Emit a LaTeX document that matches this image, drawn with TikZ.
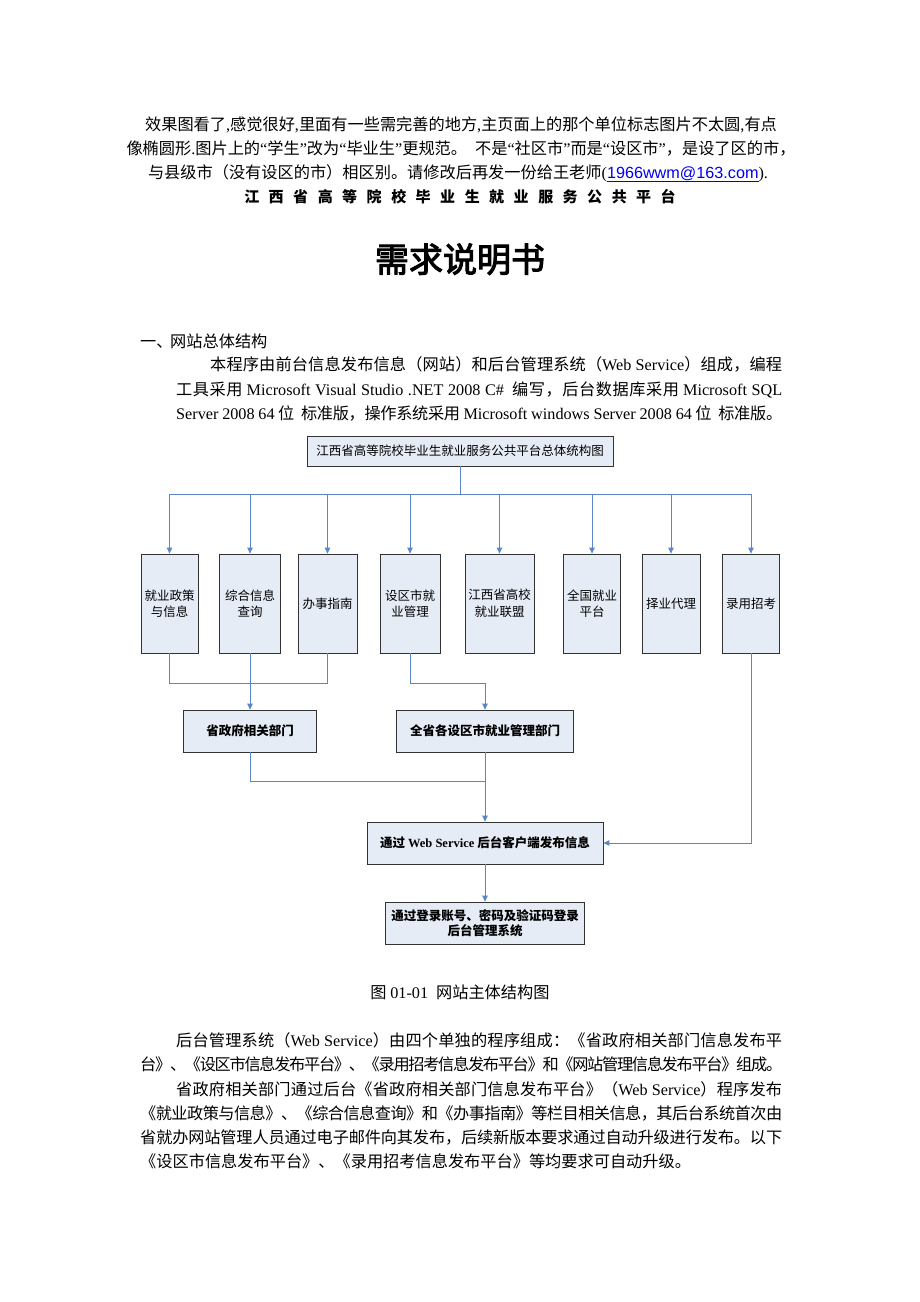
\documentclass[tikz,border=0pt]{standalone}
\usepackage{fontspec}
\setmainfont{Noto Sans CJK SC}
\newfontfamily\latfont{Liberation Serif}
\newfontfamily\lsansfont{Liberation Sans}
\newfontfamily\titlefont[FakeBold=3]{Noto Sans CJK SC}
\newcommand\lat[1]{{\latfont #1}}
\newcommand\bodyfont{\fontsize{16.2}{20}\selectfont}
\newcommand\boxfont{\fontsize{12.5}{16.5}\selectfont}
\newcommand\jxgap{\hskip 9.5pt}
% CJK characters get class 1; glue between them is used to justify single lines
\newcount\jxc
\jxc="3000 \loop \XeTeXcharclass\jxc=1 \advance\jxc 1 \ifnum\jxc<"3040 \repeat
\jxc="4E00 \loop \XeTeXcharclass\jxc=1 \advance\jxc 1 \ifnum\jxc<"A000 \repeat
\jxc="FF00 \loop \XeTeXcharclass\jxc=1 \advance\jxc 1 \ifnum\jxc<"FFF0 \repeat
\XeTeXinterchartoks 1 1 = {\hskip 0pt plus 2pt minus 1.6pt\relax}
\newcommand\jl[2]{\hbox to #1{\XeTeXinterchartokenstate=1 #2\XeTeXinterchartokenstate=0 }}
\usetikzlibrary{arrows.meta}
\definecolor{boxfill}{HTML}{E6ECF6}
\definecolor{boxline}{HTML}{333333}
\definecolor{connblue}{HTML}{5B87C8}
\definecolor{linkblue}{HTML}{0000EE}
\tikzset{
  box/.style={draw=boxline, fill=boxfill, line width=0.8pt, inner sep=1pt, align=center, font=\boxfont},
  bbox/.style={box, font=\boxfont\bfseries},
  conn/.style={draw=connblue, line width=0.9pt},
  arr/.style={conn, -{Triangle[length=6pt,width=5.5pt]}},
  cline/.style={anchor=base, inner sep=0pt, font=\bodyfont},
  lline/.style={anchor=base west, inner sep=0pt, font=\bodyfont},
}
\begin{document}
\begin{tikzpicture}[x=1pt,y=-1pt]
\fill[white] (0,0) rectangle (920,1302);
\path[use as bounding box] (0,0) rectangle (920,1302);

% ---- header note ----
\node[cline] (n1) at (461,130) {效果图看了\lat{,}感觉很好\lat{,}里面有一些需完善的地方\lat{,}主页面上的那个单位标志图片不太圆\lat{,}有点};
\node[cline] (n2) at (461,154) {像椭圆形\lat{.}图片上的\lat{“}学生\lat{”}改为\lat{“}毕业生\lat{”}更规范。\hspace{8pt}不是\lat{“}社区市\lat{”}而是\lat{“}设区市\lat{”}，是设了区的市，};
\node[cline] (n3) at (458,178) {与县级市（没有设区的市）相区别。请修改后再发一份给王老师\lat{(}\textcolor{linkblue}{\underline{\hbox{\lsansfont 1966wwm@163.com}}}\lat{).}};
\node[anchor=base, inner sep=0pt, font=\fontsize{15}{18}\selectfont\bfseries] (n4) at (460,202) {江\jxgap 西\jxgap 省\jxgap 高\jxgap 等\jxgap 院\jxgap 校\jxgap 毕\jxgap 业\jxgap 生\jxgap 就\jxgap 业\jxgap 服\jxgap 务\jxgap 公\jxgap 共\jxgap 平\jxgap 台};

% ---- title ----
\node[anchor=base, inner sep=0pt, font=\fontsize{34}{40}\selectfont\titlefont] (title) at (460,272) {需求说明书};

% ---- section 1 ----
\node[lline] (s1a) at (140,347) {一、};
\node[lline] (s1b) at (170,347) {网站总体结构};
\node[lline] (p1a) at (210,370) {\jl{572pt}{本程序由前台信息发布信息（网站）和后台管理系统（\lat{Web Service}）组成，编程}};
\node[lline] (p1b) at (176,395) {\jl{606pt}{工具采用 \lat{Microsoft Visual Studio .NET 2008 C\#}\ \ 编写，后台数据库采用 \lat{Microsoft SQL}}};
\node[lline] (p1c) at (176,419) {\jl{606pt}{\lat{Server 2008 64} 位\ \ 标准版，操作系统采用 \lat{Microsoft windows Server 2008 64} 位\ \ 标准版。}};

% ---- diagram ----
\node[box, minimum width=306pt, minimum height=30pt] (top) at (460,451) {江西省高等院校毕业生就业服务公共平台总体统构图};

\node[box, minimum width=57pt, minimum height=99pt] (b1) at (169.5,603.5) {就业政策\\与信息};
\node[box, minimum width=61pt, minimum height=99pt] (b2) at (250,603.5) {综合信息\\查询};
\node[box, minimum width=59pt, minimum height=99pt] (b3) at (327.5,603.5) {办事指南};
\node[box, minimum width=60pt, minimum height=99pt] (b4) at (410,603.5) {设区市就\\业管理};
\node[box, minimum width=69pt, minimum height=99pt] (b5) at (499.5,603.5) {江西省高校\\就业联盟};
\node[box, minimum width=57pt, minimum height=99pt] (b6) at (592,603.5) {全国就业\\平台};
\node[box, minimum width=58pt, minimum height=99pt] (b7) at (671,603.5) {择业代理};
\node[box, minimum width=57pt, minimum height=99pt] (b8) at (751,603.5) {录用招考};

\node[bbox, minimum width=133pt, minimum height=42pt] (gov) at (250,731) {省政府相关部门};
\node[bbox, minimum width=177pt, minimum height=42pt] (city) at (485,731) {全省各设区市就业管理部门};
\node[bbox, minimum width=236pt, minimum height=42pt] (ws) at (485,843) {通过 \lat{\bfseries Web Service} 后台客户端发布信息};
\node[bbox, minimum width=198.5pt, minimum height=42pt, font=\fontsize{12.5}{15.5}\selectfont\bfseries] (login) at (485,923) {通过登录账号、密码及验证码登录\\后台管理系统};

\coordinate (bus) at (460,494);
\coordinate (m1) at (0,683);
\coordinate (m2) at (0,781);

\draw[conn] (top.south) -- (bus);
\draw[conn] (b1.north |- bus) -- (b8.north |- bus);
\foreach \b in {b1,b2,b3,b4,b5,b6,b7,b8}
  \draw[arr] (\b.north |- bus) -- (\b.north);

\draw[conn] (b1.south) -- (b1.south |- m1) -- (b3.south |- m1) -- (b3.south);
\draw[arr] (b2.south) -- (gov.north);
\draw[arr] (b4.south) -- (b4.south |- m1) -| (city.north);
\draw[conn] (gov.south) -- (gov.south |- m2) -- (city.south |- m2);
\draw[arr] (city.south) -- (ws.north);
\draw[arr] (b8.south) |- (ws.east);
\draw[arr] (ws.south) -- (login.north);

% ---- caption ----
\node[cline] (cap) at (460,998) {图 \lat{01-01}\hspace{8pt}网站主体结构图};

% ---- paragraph 2 ----
\node[lline] (q1) at (176,1046) {\jl{606pt}{后台管理系统（\lat{Web Service}）由四个单独的程序组成：《省政府相关部门信息发布平}};
\node[lline] (q2) at (140,1070) {\jl{642pt}{台》、《设区市信息发布平台》、《录用招考信息发布平台》和《网站管理信息发布平台》组成。}};
\node[lline] (q3) at (176,1095) {\jl{606pt}{省政府相关部门通过后台《省政府相关部门信息发布平台》（\lat{Web Service}）程序发布}};
\node[lline] (q4) at (140,1119) {\jl{642pt}{《就业政策与信息》、《综合信息查询》和《办事指南》等栏目相关信息，其后台系统首次由}};
\node[lline] (q5) at (140,1143) {\jl{642pt}{省就办网站管理人员通过电子邮件向其发布，后续新版本要求通过自动升级进行发布。以下}};
\node[lline] (q6) at (140,1167) {《设区市信息发布平台》、《录用招考信息发布平台》等均要求可自动升级。};
\end{tikzpicture}
\end{document}
